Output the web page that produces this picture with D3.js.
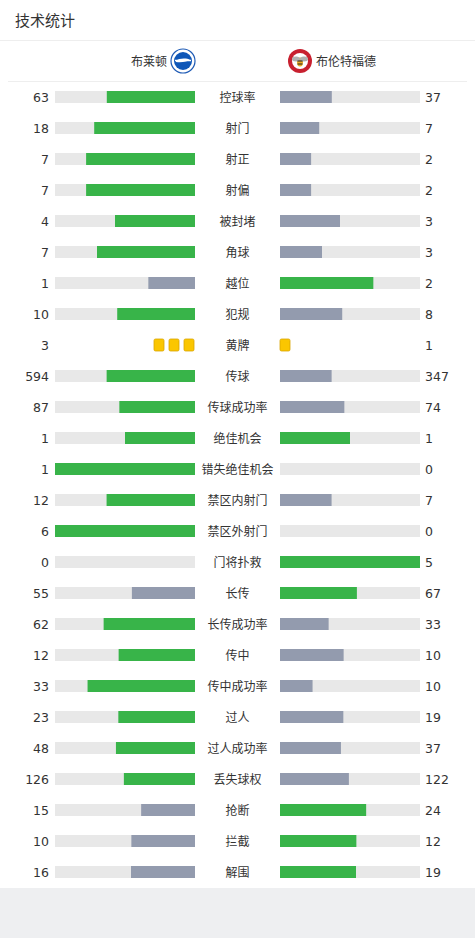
<!DOCTYPE html>
<html><head><meta charset="utf-8">
<script src="https://cdn.jsdelivr.net/npm/d3@7"></script>
<style>
html,body{margin:0;padding:0;background:#eeeff1;}
svg{display:block;}
</style></head>
<body>
<script>
const title = "技术统计";
const homeTeam = "布莱顿";
const awayTeam = "布伦特福德";
const categories = ["控球率","射门","射正","射偏","被封堵","角球","越位","犯规","黄牌","传球","传球成功率","绝佳机会","错失绝佳机会","禁区内射门","禁区外射门","门将扑救","长传","长传成功率","传中","传中成功率","过人","过人成功率","丢失球权","抢断","拦截","解围"];
const homeValues = [63,18,7,7,4,7,1,10,3,594,87,1,1,12,6,0,55,62,12,33,23,48,126,15,10,16];
const awayValues = [37,7,2,2,3,3,2,8,1,347,74,1,0,7,0,5,67,33,10,10,19,37,122,24,12,19];
const cardCategory = "黄牌";

const W = 475, H = 938;
const green = "#38b449", grey = "#939bae", track = "#e8e8e8", text = "#333";

const svg = d3.select("body").append("svg").attr("width", W).attr("height", H);
svg.append("rect").attr("width", W).attr("height", 888).attr("fill", "#fff");

svg.append("text").attr("x", 15).attr("y", 26).attr("font-family", "Noto Sans CJK SC")
  .attr("font-size", 15).attr("fill", text).text(title);
svg.append("line").attr("x1", 0).attr("x2", W).attr("y1", 40.5).attr("y2", 40.5).attr("stroke", "#eeeeee");
svg.append("line").attr("x1", 8).attr("x2", 467).attr("y1", 81.5).attr("y2", 81.5).attr("stroke", "#eeeeee");

// team header
svg.append("text").attr("x", 167).attr("y", 66).attr("text-anchor", "end")
  .attr("font-family", "Noto Sans CJK SC").attr("font-size", 12).attr("fill", text).text(homeTeam);
svg.append("text").attr("x", 316).attr("y", 66)
  .attr("font-family", "Noto Sans CJK SC").attr("font-size", 12).attr("fill", text).text(awayTeam);

// Brighton logo
const bh = svg.append("g").attr("transform", "translate(183,61)");
bh.append("circle").attr("r", 12).attr("fill", "#fff").attr("stroke", "#1f5bb5").attr("stroke-width", 1.2);
bh.append("circle").attr("r", 9).attr("fill", "#0f57b8");
bh.append("path").attr("d", "M-7,0 C-4,-3 4,-3 7,-1 C4,0 0,2 -7,1 Z").attr("fill", "#fff");
bh.append("path").attr("d", "M-8,-0.5 L8,-0.5").attr("stroke", "#fff").attr("stroke-width", 1.5);
// Brentford logo
const bf = svg.append("g").attr("transform", "translate(300,61)");
bf.append("circle").attr("r", 12).attr("fill", "#c8202f");
bf.append("circle").attr("r", 8).attr("fill", "#fff");
bf.append("ellipse").attr("rx", 3).attr("ry", 4.5).attr("cy", 1).attr("fill", "#e9a923");
bf.append("ellipse").attr("rx", 4).attr("ry", 2.5).attr("cx", -4).attr("cy", -2).attr("fill", "#b0b0b0");
bf.append("ellipse").attr("rx", 4).attr("ry", 2.5).attr("cx", 4).attr("cy", -2).attr("fill", "#b0b0b0");
bf.append("line").attr("x1", -2.5).attr("x2", 2.5).attr("y1", 0).attr("y2", 0).attr("stroke", "#222").attr("stroke-width", 1);
bf.append("line").attr("x1", -2.5).attr("x2", 2.5).attr("y1", 3).attr("y2", 3).attr("stroke", "#222").attr("stroke-width", 1);

const y = d3.scaleBand().domain(categories).range([81.5, 81.5 + 31 * categories.length]);
const barW = 140, barH = 12;
const share = d3.scaleLinear().domain([0, 1]).range([0, barW]);
const leftX = 55, rightX = 280;

categories.forEach((c, i) => {
  const cy = y(c) + y.bandwidth() / 2;
  const h = homeValues[i], a = awayValues[i];
  const g = svg.append("g");
  g.append("text").attr("x", 49).attr("y", cy + 4.5).attr("text-anchor", "end")
    .attr("font-family", "DejaVu Sans").attr("font-size", 12.5).attr("fill", text).text(h);
  g.append("text").attr("x", 425).attr("y", cy + 4.5)
    .attr("font-family", "DejaVu Sans").attr("font-size", 12.5).attr("fill", text).text(a);
  g.append("text").attr("x", 237.5).attr("y", cy + 4.5).attr("text-anchor", "middle")
    .attr("font-family", "Noto Sans CJK SC").attr("font-size", 12).attr("fill", text).text(c);
  if (c === cardCategory) {
    d3.range(h).forEach(k => {
      g.append("rect").attr("x", 184 - k * 15).attr("y", cy - 6).attr("width", 10).attr("height", 12)
        .attr("rx", 1.5).attr("fill", "#fbc600").attr("stroke", "#d9a400").attr("stroke-width", 0.8);
    });
    d3.range(a).forEach(k => {
      g.append("rect").attr("x", 280 + k * 15).attr("y", cy - 6).attr("width", 10).attr("height", 12)
        .attr("rx", 1.5).attr("fill", "#fbc600").attr("stroke", "#d9a400").attr("stroke-width", 0.8);
    });
    return;
  }
  const tot = h + a;
  const hs = tot ? h / tot : 0, as = tot ? a / tot : 0;
  g.append("rect").attr("x", leftX).attr("y", cy - barH / 2).attr("width", barW).attr("height", barH).attr("fill", track);
  g.append("rect").attr("x", rightX).attr("y", cy - barH / 2).attr("width", barW).attr("height", barH).attr("fill", track);
  g.append("rect").attr("x", leftX + barW - share(hs)).attr("y", cy - barH / 2).attr("width", share(hs)).attr("height", barH)
    .attr("fill", h >= a ? green : grey);
  g.append("rect").attr("x", rightX).attr("y", cy - barH / 2).attr("width", share(as)).attr("height", barH)
    .attr("fill", a >= h ? green : grey);
});
</script>
</body></html>
